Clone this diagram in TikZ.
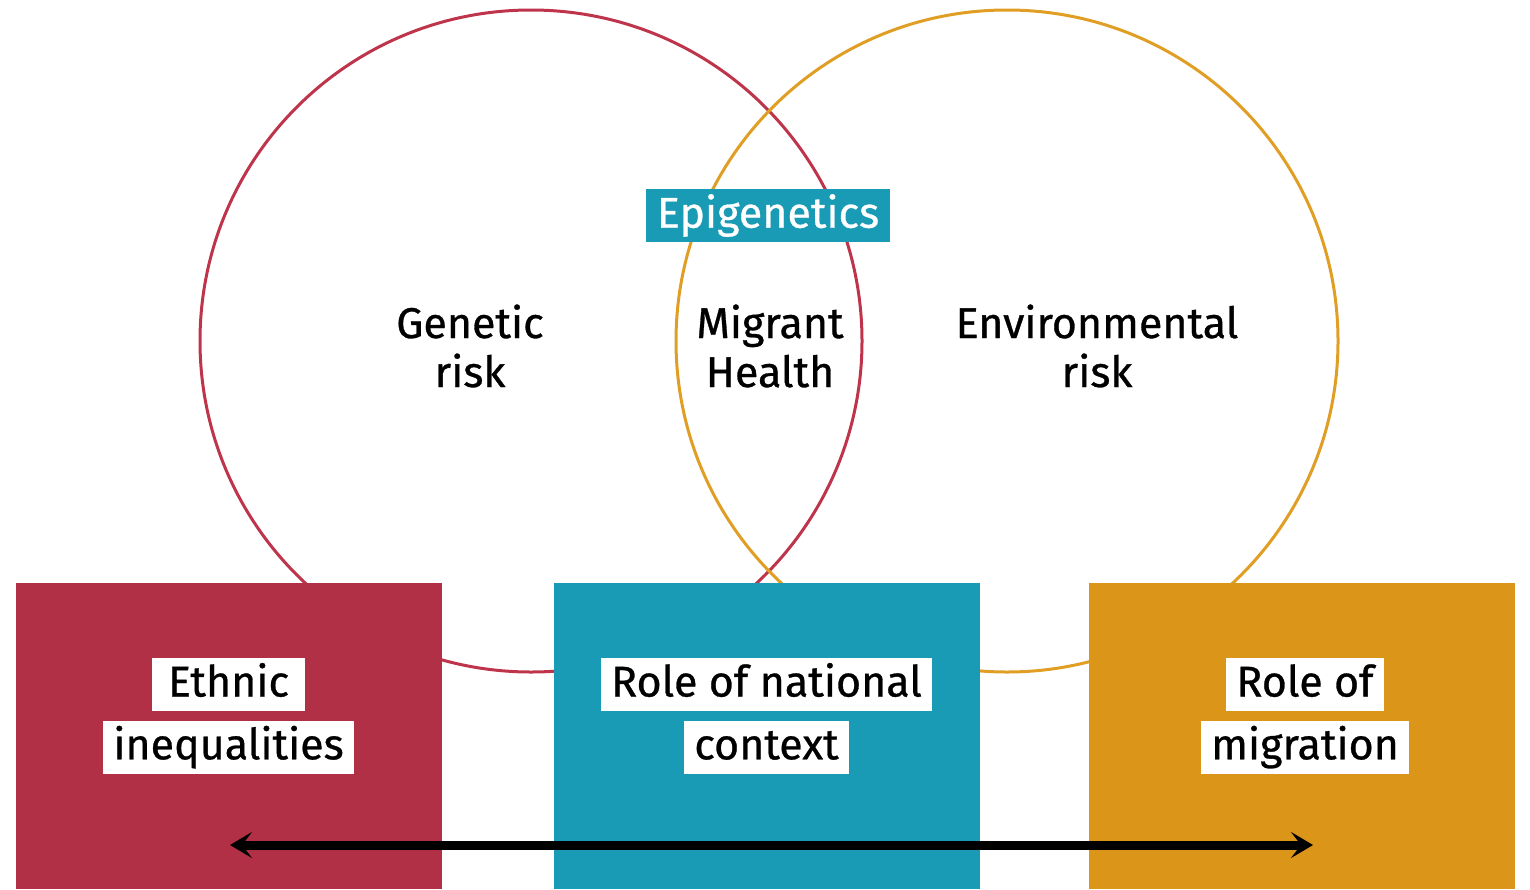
\documentclass[tikz,border=0pt]{standalone}
\usepackage{fontspec}
\setmainfont{Fira Sans}[UprightFeatures={FakeBold=0.7}]
\usetikzlibrary{arrows.meta, positioning}
\definecolor{ethnicred}{RGB}{178,48,69}
\definecolor{contextteal}{RGB}{25,154,181}
\definecolor{migrationgold}{RGB}{219,149,24}
\definecolor{geneticred}{RGB}{190,52,74}
\definecolor{envgold}{RGB}{224,158,36}
\newcommand{\labelfont}{\fontsize{21.5}{24.5}\selectfont}

\begin{document}
\begin{tikzpicture}[x=0.5pt, y=-0.5pt,
    ring/.style={circle, draw=#1, line width=1.5pt, minimum size=331pt, inner sep=0pt},
    panel/.style={rectangle, fill=#1, anchor=north west, minimum width=213pt,
                  minimum height=153pt, inner sep=0pt},
    tile/.style={fill=white, text height=16pt, text depth=4pt, inner xsep=5pt,
                 inner ysep=3.25pt, font=\labelfont},
    risk/.style={align=center, font=\labelfont}
]
\useasboundingbox (0,0) rectangle (1530,889);
% the two overlapping risk circles
\node[ring=geneticred] (genetic) at (531,341) {};
\node[ring=envgold] (environ) at (1007,341) {};
\node[risk] (genrisk) at (470,346) {Genetic\\risk};
\node[risk] (health) at (770,346) {Migrant\\Health};
\node[risk] (envrisk) at (1097,346) {Environmental\\risk};
\node[fill=contextteal, text=white, minimum width=122pt, minimum height=26.5pt,
      inner sep=0pt, font=\labelfont] (epi) at (768,215.5) {Epigenetics};
% coloured panels along the bottom
\node[panel=ethnicred] (ethnic) at (16,583) {};
\node[panel=contextteal] (context) at (554,583) {};
\node[panel=migrationgold] (migration) at (1089,583) {};
\node[tile, minimum width=76.5pt] (eth1) at (228.5,684.5) {Ethnic};
\node[tile, below=4.5pt of eth1] (eth2) {inequalities};
\node[tile] (nat1) at (766.5,684.5) {Role of national};
\node[tile, below=4.5pt of nat1] (nat2) {context};
\node[tile] (mig1) at (1305,684.5) {Role of};
\node[tile, below=4.5pt of mig1] (mig2) {migration};
\coordinate (leftend) at (230,845);
\coordinate (rightend) at (1313,845);
\draw[{Stealth[length=11pt, width=13pt, inset=5pt]}-{Stealth[length=11pt, width=13pt, inset=5pt]},
      line width=4.5pt] (leftend) -- (rightend);
\end{tikzpicture}
\end{document}
